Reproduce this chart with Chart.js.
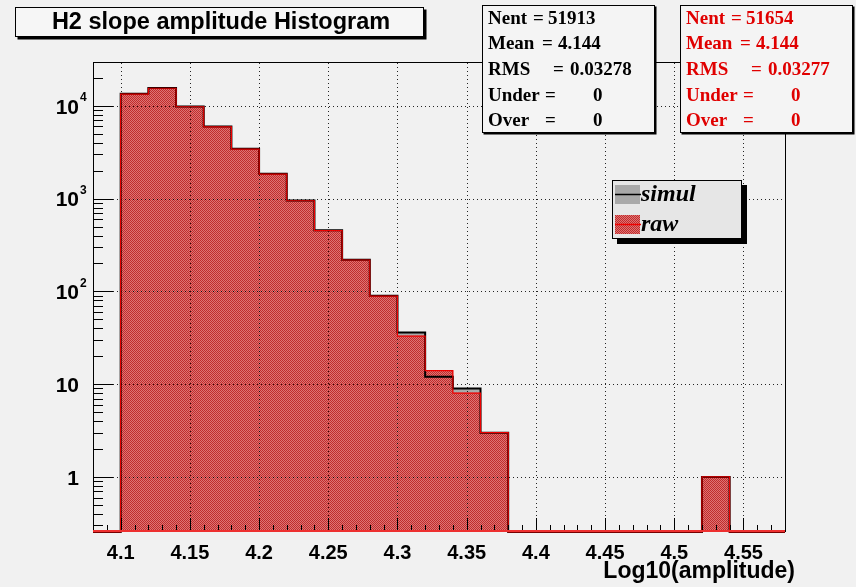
<!DOCTYPE html>
<html>
<head>
<meta charset="utf-8">
<title>H2 slope amplitude Histogram</title>
<script src="https://cdn.jsdelivr.net/npm/chart.js@4.4.0/dist/chart.umd.min.js"></script>
<style>
html, body { margin: 0; padding: 0; background: #f1f1f1; }
canvas { display: block; }
</style>
</head>
<body>
<canvas id="histo" width="856" height="587"></canvas>
<script>
// log10(amplitude) bins, 0.02 wide, low edges
var binWidth = 0.02;
var binLow = [4.08, 4.10, 4.12, 4.14, 4.16, 4.18, 4.20, 4.22, 4.24, 4.26, 4.28, 4.30, 4.32,
              4.34, 4.36, 4.38, 4.40, 4.42, 4.44, 4.46, 4.48, 4.50, 4.52, 4.54, 4.56];
var simul = [0, 13480, 15530, 9820, 5980, 3440, 1850, 955, 455, 220, 90, 36, 12,
             9, 3, 0, 0, 0, 0, 0, 0, 0, 1, 0, 0];
var raw   = [0, 13400, 15480, 9780, 5950, 3420, 1840, 949, 451, 218, 89, 33, 14,
             8, 3, 0, 0, 0, 0, 0, 0, 0, 1, 0, 0];

var xTicks = [4.1, 4.15, 4.2, 4.25, 4.3, 4.35, 4.4, 4.45, 4.5, 4.55];
var xTickLabels = ['4.1', '4.15', '4.2', '4.25', '4.3', '4.35', '4.4', '4.45', '4.5', '4.55'];
var yTicks = [1, 10, 100, 1000, 10000];
var yTickLabels = [['1', ''], ['10', ''], ['10', '2'], ['10', '3'], ['10', '4']];

var simulStats = [['Nent', '=', '51913'], ['Mean', '=', '4.144'], ['RMS', '=', '0.03278'],
                  ['Under', '=', '0'], ['Over', '=', '0']];
var rawStats   = [['Nent', '=', '51654'], ['Mean', '=', '4.144'], ['RMS', '=', '0.03277'],
                  ['Under', '=', '0'], ['Over', '=', '0']];

var SANS = '"Liberation Sans", Helvetica, Arial, sans-serif';
var SERIF = '"Liberation Serif", "Times New Roman", serif';

// red dotted fill, like the ROOT hatch style
function redPattern() {
  var c = document.createElement('canvas');
  c.width = 2; c.height = 2;
  var g = c.getContext('2d');
  g.fillStyle = '#de7474';
  g.fillRect(0, 0, 2, 2);
  g.fillStyle = '#c02c2c';
  g.fillRect(0, 0, 1, 1);
  g.fillRect(1, 1, 1, 1);
  return g.createPattern(c, 'repeat');
}
var rawFill = redPattern();
var simulFill = '#a9a9a9';

// continuous x value -> pixel, through the category (bin) scale
function xPixel(scale, v) {
  return scale.getPixelForValue((v - binLow[0]) / binWidth - 0.5);
}

function stepOutline(ctx, meta, color, width) {
  var bars = meta.data;
  if (!bars.length) return;
  ctx.save();
  ctx.strokeStyle = color;
  ctx.lineWidth = width;
  ctx.beginPath();
  var first = bars[0].getProps(['x', 'y', 'width', 'base'], true);
  ctx.moveTo(first.x - first.width / 2, first.base);
  for (var i = 0; i < bars.length; i++) {
    var b = bars[i].getProps(['x', 'y', 'width', 'base'], true);
    ctx.lineTo(b.x - b.width / 2, b.y);
    ctx.lineTo(b.x + b.width / 2, b.y);
  }
  var last = bars[bars.length - 1].getProps(['x', 'y', 'width', 'base'], true);
  ctx.lineTo(last.x + last.width / 2, last.base);
  ctx.stroke();
  ctx.restore();
}

function shadowBox(ctx, x, y, w, h, fill, shadow) {
  ctx.save();
  ctx.fillStyle = '#000';
  ctx.fillRect(x + shadow, y + shadow, w, h);
  ctx.fillStyle = fill;
  ctx.fillRect(x, y, w, h);
  ctx.strokeStyle = '#000';
  ctx.lineWidth = 1;
  ctx.strokeRect(x + 0.5, y + 0.5, w - 1, h - 1);
  ctx.restore();
}

function drawStats(ctx, x0, y0, w, h, rows, color) {
  // name / '=' / value columns
  var eqX = [51, 60, 71, 63, 63];
  var valX = [66, 76, 88, 111, 111];
  shadowBox(ctx, x0, y0, w, h, '#f4f4f4', 1.5);
  ctx.save();
  ctx.fillStyle = color;
  ctx.font = 'bold 19px ' + SERIF;
  ctx.textBaseline = 'middle';
  ctx.textAlign = 'left';
  var rowH = h / rows.length;
  for (var i = 0; i < rows.length; i++) {
    var cy = y0 + rowH * (i + 0.5) + 1;
    ctx.fillText(rows[i][0], x0 + 6, cy);
    ctx.fillText(rows[i][1], x0 + eqX[i], cy);
    ctx.fillText(rows[i][2], x0 + valX[i], cy);
  }
  ctx.restore();
}

var rootStyle = {
  id: 'rootStyle',
  beforeDraw: function (chart) {
    var ctx = chart.ctx;
    ctx.save();
    ctx.fillStyle = '#f1f1f1';
    ctx.fillRect(0, 0, chart.width, chart.height);
    ctx.restore();
  },
  afterDatasetsDraw: function (chart) {
    var ctx = chart.ctx;
    var area = chart.chartArea;
    var xs = chart.scales.x;
    var ys = chart.scales.y;
    var xMin = binLow[0];
    var xMax = binLow[binLow.length - 1] + binWidth;

    // dotted grid at the major ticks
    ctx.save();
    ctx.strokeStyle = 'rgba(0,0,0,0.85)';
    ctx.lineWidth = 1;
    ctx.setLineDash([1, 3]);
    xTicks.forEach(function (v) {
      var px = Math.round(xPixel(xs, v)) + 0.5;
      ctx.beginPath();
      ctx.moveTo(px, area.bottom);
      ctx.lineTo(px, area.top);
      ctx.stroke();
    });
    yTicks.forEach(function (v) {
      var py = Math.round(ys.getPixelForValue(v)) + 0.5;
      ctx.beginPath();
      ctx.moveTo(area.left, py);
      ctx.lineTo(area.right, py);
      ctx.stroke();
    });
    ctx.restore();

    // histogram outlines
    stepOutline(ctx, chart.getDatasetMeta(1), '#000', 2);
    stepOutline(ctx, chart.getDatasetMeta(0), '#ee0000', 1.2);

    // frame
    ctx.save();
    ctx.strokeStyle = '#000';
    ctx.lineWidth = 1;
    ctx.strokeRect(Math.round(area.left) + 0.5, Math.round(area.top) + 0.5,
                   Math.round(area.right - area.left), Math.round(area.bottom - area.top) - 1);

    // inward ticks on the x axis, minor every 0.01
    ctx.beginPath();
    var nMinor = Math.round((xMax - xMin) / 0.01);
    for (var k = 0; k <= nMinor; k++) {
      var v = xMin + k * 0.01;
      var px = Math.round(xPixel(xs, v)) + 0.5;
      var isMajor = xTicks.some(function (t) { return Math.abs(t - v) < 1e-6; });
      ctx.moveTo(px, area.bottom);
      ctx.lineTo(px, area.bottom - (isMajor ? 14 : 7));
    }
    // inward ticks on the log y axis
    for (var e = -1; e <= 4; e++) {
      for (var m = 1; m <= 9; m++) {
        var val = m * Math.pow(10, e);
        if (val < ys.min || val > ys.max) continue;
        var py = Math.round(ys.getPixelForValue(val)) + 0.5;
        ctx.moveTo(area.left, py);
        ctx.lineTo(area.left + (m === 1 ? 20 : 10), py);
      }
    }
    ctx.stroke();
    ctx.restore();
    // red baseline of the histogram over the axis
    ctx.save();
    ctx.strokeStyle = '#ee3030';
    ctx.lineWidth = 2;
    ctx.beginPath();
    ctx.moveTo(area.left, area.bottom - 1);
    ctx.lineTo(area.right, area.bottom - 1);
    ctx.stroke();
    ctx.restore();
  },
  afterDraw: function (chart) {
    var ctx = chart.ctx;
    var area = chart.chartArea;
    var xs = chart.scales.x;
    var ys = chart.scales.y;

    ctx.save();
    ctx.fillStyle = '#000';
    // x tick labels
    ctx.font = 'bold 20px ' + SANS;
    ctx.textAlign = 'center';
    ctx.textBaseline = 'middle';
    xTicks.forEach(function (v, i) {
      ctx.fillText(xTickLabels[i], xPixel(xs, v), area.bottom + 21);
    });
    // y tick labels with exponents
    yTicks.forEach(function (v, i) {
      var py = ys.getPixelForValue(v);
      ctx.font = 'bold 21px ' + SANS;
      ctx.textAlign = 'right';
      ctx.fillText(yTickLabels[i][0], 79, py + 2);
      if (yTickLabels[i][1]) {
        ctx.font = 'bold 12px ' + SANS;
        ctx.textAlign = 'left';
        ctx.fillText(yTickLabels[i][1], 80, py - 8);
      }
    });
    // axis title
    ctx.font = 'bold 23px ' + SANS;
    ctx.textAlign = 'right';
    ctx.fillText('Log10(amplitude)', area.right + 10, area.bottom + 40);
    ctx.restore();

    // title box
    shadowBox(ctx, 15, 7, 409, 30, '#f6f6f6', 2.5);
    ctx.save();
    ctx.fillStyle = '#000';
    ctx.font = 'bold 23.5px ' + SANS;
    ctx.textAlign = 'center';
    ctx.textBaseline = 'middle';
    ctx.fillText('H2 slope amplitude Histogram', 221, 23);
    ctx.restore();

    // stat boxes
    drawStats(ctx, 482, 5, 173, 128, simulStats, '#000');
    drawStats(ctx, 680, 5, 173, 128, rawStats, '#e00000');

    // legend
    shadowBox(ctx, 612, 180, 130, 59, '#e6e6e6', 5);
    var entries = [
      { text: 'simul', fill: simulFill, line: '#000', y: 194 },
      { text: 'raw', fill: rawFill, line: '#ee0000', y: 224 }
    ];
    ctx.save();
    entries.forEach(function (en) {
      ctx.fillStyle = en.fill;
      ctx.fillRect(615, en.y - 9, 25, 19);
      ctx.strokeStyle = en.line;
      ctx.lineWidth = 1.5;
      ctx.beginPath();
      ctx.moveTo(615, en.y + 0.5);
      ctx.lineTo(641, en.y + 0.5);
      ctx.stroke();
      ctx.fillStyle = '#000';
      ctx.font = 'italic bold 24px ' + SERIF;
      ctx.textAlign = 'left';
      ctx.textBaseline = 'alphabetic';
      ctx.fillText(en.text, 641, en.y + 7);
    });
    ctx.restore();
  }
};

new Chart(document.getElementById('histo'), {
  type: 'bar',
  data: {
    labels: binLow.map(function (v) { return v.toFixed(2); }),
    datasets: [
      { label: 'raw', data: raw, backgroundColor: rawFill, order: 1 },
      { label: 'simul', data: simul, backgroundColor: simulFill, order: 2 }
    ]
  },
  options: {
    responsive: false,
    animation: false,
    layout: { padding: { left: 93, right: 71, top: 62, bottom: 55 } },
    datasets: {
      bar: { grouped: false, barPercentage: 1, categoryPercentage: 1, borderWidth: 0 }
    },
    scales: {
      x: { display: false },
      y: { type: 'logarithmic', display: false, min: 0.255, max: 29700 }
    },
    plugins: {
      legend: { display: false },
      tooltip: { enabled: false },
      title: { display: false }
    }
  },
  plugins: [rootStyle]
});
</script>
</body>
</html>
